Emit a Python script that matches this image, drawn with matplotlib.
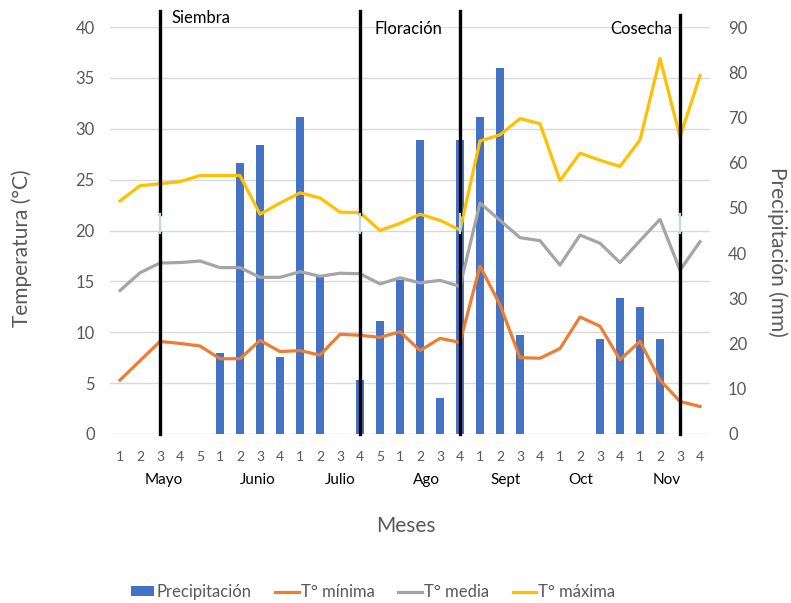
import numpy as np
import matplotlib.pyplot as plt
from matplotlib.transforms import blended_transform_factory

plt.rcParams['font.family'] = ['Lato', 'DejaVu Sans']

# semanas de cada mes (mayo a noviembre)
weeks = [1, 2, 3, 4, 5, 1, 2, 3, 4, 1, 2, 3, 4, 5, 1, 2, 3, 4,
         1, 2, 3, 4, 1, 2, 3, 4, 1, 2, 3, 4]
months = ['Mayo', 'Junio', 'Julio', 'Ago', 'Sept', 'Oct', 'Nov']

precip = [0, 0, 0, 0, 0, 18, 60, 64, 17, 70, 35, 0, 12, 25, 34, 65, 8, 65,
          70, 81, 22, 0, 0, 0, 21, 30, 28, 21, 0, 0]
tmin = [5.3, 7.2, 9.1, 8.9, 8.65, 7.4, 7.4, 9.2, 8.1, 8.2, 7.75, 9.8, 9.7, 9.5,
        10.05, 8.2, 9.4, 9.0, 16.5, 12.7, 7.5, 7.45, 8.4, 11.5, 10.6, 7.3,
        9.1, 5.3, 3.2, 2.7]
tmed = [14.1, 15.85, 16.8, 16.85, 17.0, 16.35, 16.35, 15.4, 15.4, 15.95, 15.5,
        15.8, 15.75, 14.75, 15.35, 14.85, 15.1, 14.5, 22.7, 21.0, 19.3, 19.0,
        16.6, 19.55, 18.75, 16.85, 19.0, 21.1, 16.1, 18.9]
tmax = [22.9, 24.4, 24.6, 24.8, 25.4, 25.4, 25.4, 21.6, 22.7, 23.7, 23.2, 21.8,
        21.75, 20.0, 20.7, 21.6, 21.0, 20.05, 28.8, 29.4, 31.0, 30.5, 24.9,
        27.6, 26.9, 26.3, 28.9, 36.9, 29.2, 35.2]

# fases del cultivo (semana donde se marca la linea)
phase_idx = [2, 12, 17, 28]
phase_txt = ['Siembra', 'Floración', '', 'Cosecha']

gray = '#595959'
x = np.arange(len(weeks))

fig = plt.figure(figsize=(7.91, 6.03), dpi=100)
ax = fig.add_axes([110/791, 1-434/603, 600/791, 407/603])
ax2 = ax.twinx()
ax.set_zorder(ax2.get_zorder() + 1)
ax.patch.set_visible(False)

# grilla horizontal (eje de temperatura) detras de las barras
for t in range(0, 45, 5):
    ax2.plot([0, 1], [t, t], transform=ax.get_yaxis_transform(),
             color='#d9d9d9', lw=1, zorder=0)

ax2.bar(x, precip, width=0.38, color='#4472C4', label='Precipitación', zorder=2)
ax.plot(x, tmin, color='#ED7D31', lw=2.3, label='T° mínima')
ax.plot(x, tmed, color='#A5A5A5', lw=2.3, label='T° media')
ax.plot(x, tmax, color='#FFC000', lw=2.3, label='T° máxima')

ax.set_xlim(-0.5, len(weeks) - 0.5)
ax.set_ylim(0, 40)
ax2.set_ylim(0, 90)
ax.set_yticks(range(0, 45, 5))
ax2.set_yticks(range(0, 100, 10))
ax.set_xticks(x)
ax.set_xticklabels(weeks)

for a in (ax, ax2):
    for s in a.spines.values():
        s.set_visible(False)
ax.tick_params(axis='y', length=0, labelsize=12, labelcolor=gray, pad=11)
ax2.tick_params(axis='y', length=0, labelsize=12, labelcolor=gray, pad=13)
ax.tick_params(axis='x', length=0, labelsize=10, labelcolor=gray, pad=12)

# lineas de las fases
line_top = [41.6, 41.6, 41.6, 41.2]
for i, top, txt in zip(phase_idx, line_top, phase_txt):
    ax.plot([i, i], [0, 19.75], color='black', lw=2.4, clip_on=False, zorder=5)
    ax.plot([i, i], [21.6, top], color='black', lw=2.4, clip_on=False, zorder=5)
    ax.plot([i, i], [19.75, 21.6], color='#bdd7ee', lw=1.6, zorder=5)
ax.text(phase_idx[0] + 0.6, 40.4, phase_txt[0], fontsize=12, va='baseline')
ax.text(phase_idx[1] + 0.75, 39.3, phase_txt[1], fontsize=12, va='baseline')
ax.text(phase_idx[3] - 0.4, 39.3, phase_txt[3], fontsize=12, va='baseline',
        ha='right')

# nombres de los meses bajo las semanas
month_pos = [2.2, 6.9, 11.0, 15.3, 19.3, 23.05, 27.35]
trans = blended_transform_factory(ax.transData, ax.transAxes)
for m, p in zip(months, month_pos):
    ax.text(p, -0.123, m, transform=trans, ha='center', va='baseline',
            fontsize=11, color='black')

fig.text(406/791, 1-532/603, 'Meses', ha='center', va='baseline',
         fontsize=15, color=gray)
fig.text(22/791, 1-248/603, 'Temperatura (°C)', rotation=90, ha='center',
         va='center', fontsize=15, color=gray)
fig.text(777/791, 1-252/603, 'Precipitación (mm)', rotation=270, ha='center',
         va='center', fontsize=15, color=gray)

h1, l1 = ax2.get_legend_handles_labels()
h2, l2 = ax.get_legend_handles_labels()
leg = fig.legend(h1 + h2, l1 + l2, loc='center', bbox_to_anchor=(0.472, 0.018),
                 ncol=4, frameon=False, fontsize=12, handlelength=1.4,
                 handleheight=0.5, handletextpad=0.15, columnspacing=1.4)
for t in leg.get_texts():
    t.set_color(gray)

fig.savefig('out.png', dpi=100)
